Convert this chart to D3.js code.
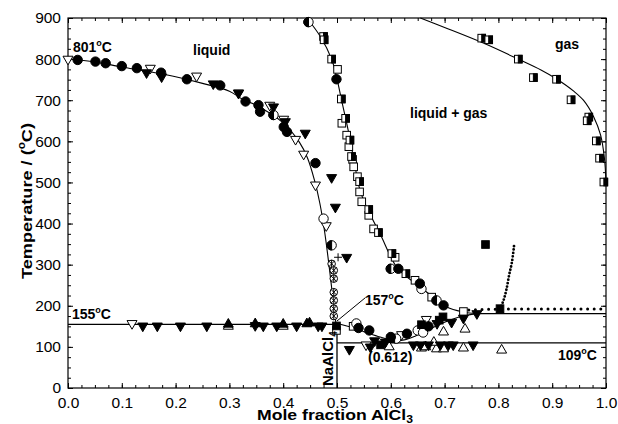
<!DOCTYPE html>
<html>
<head>
<meta charset="utf-8">
<script src="https://cdn.jsdelivr.net/npm/d3@7"></script>
<style>
  body { margin: 0; background: #fff; }
  svg { font-family: Arial, "Liberation Sans", sans-serif; }
</style>
</head>
<body>
<div id="chart"></div>
<script>
// ---- data (x = mole fraction AlCl3, T in degC) ----
const xTicks = [0, 0.1, 0.2, 0.3, 0.4, 0.5, 0.6, 0.7, 0.8, 0.9, 1.0];
const yTicks = [0, 100, 200, 300, 400, 500, 600, 700, 800, 900];

// fitted curves
const liquidusNaCl = [[0,801],[0.05,793],[0.1,781],[0.15,770],[0.2,757],[0.25,741],[0.3,722],[0.325,702],[0.35,688],[0.4,645],[0.43,598],[0.445,560],[0.458,506],[0.468,450],[0.477,380],[0.485,300],[0.492,222],[0.498,157]];
const liquidusUpper = [[0.444,900],[0.469,855],[0.49,800],[0.5,752],[0.508,703],[0.516,656],[0.525,600],[0.532,550],[0.543,480],[0.556,437],[0.58,375],[0.612,292],[0.642,258],[0.667,233],[0.704,197],[0.735,185],[0.76,181]];
const liquidusLower = [[0.5,157],[0.52,150],[0.55,137],[0.58,124],[0.605,116],[0.625,117],[0.645,126],[0.67,142],[0.7,160],[0.73,174],[0.76,181]];
const gasCurve = [[0.655,900],[0.7,877],[0.772,839],[0.837,800],[0.88,773],[0.909,751],[0.94,722],[0.958,700],[0.977,660],[0.99,615],[0.997,560],[1.0,500]];
const line155 = [[0,155],[0.5,155]];
const line181 = [[0.76,181],[1,181]];
const line109 = [[0.5,110],[1,110]];
const lineNaAlCl4 = [[0.5,0],[0.5,157]];
const dottedFlat = [[0.745,190],[0.8,192],[1,192]];
const dottedRise = [[0.803,192],[0.81,215],[0.815,240],[0.82,275],[0.825,305],[0.829,345]];

// measured points by symbol
const filledCircle = [[0.018,798],[0.051,794],[0.07,790],[0.1,783],[0.128,778],[0.173,767],[0.221,751],[0.283,736],[0.33,697],[0.354,688],[0.357,672],[0.401,635],[0.407,623],[0.46,547],[0.499,751],[0.614,290],[0.654,254],[0.698,201],[0.56,140],[0.6,124],[0.63,132],[0.54,146],[0.67,150]];
const openDownTri = [[0.0,800],[0.153,778],[0.239,759],[0.317,718],[0.375,688],[0.401,654],[0.423,605],[0.438,569],[0.46,494],[0.119,157],[0.666,167],[0.554,105],[0.48,395],[0.62,130]];
const filledDownTri = [[0.146,767],[0.174,757],[0.27,740],[0.317,717],[0.382,684],[0.404,648],[0.441,620],[0.49,512],[0.497,440],[0.518,318],
  [0.139,151],[0.166,151],[0.209,151],[0.258,151],[0.348,152],[0.363,151],[0.388,151],[0.425,151],[0.465,151],[0.472,151],
  [0.523,94],[0.562,100],[0.642,105],[0.655,105],[0.67,105],[0.692,105],[0.707,105],[0.716,105],[0.753,105],
  [0.686,157],[0.713,160],[0.735,170],[0.76,181],[0.59,112],[0.57,115]];
const filledUpTri = [[0.298,155],[0.348,156],[0.4,155],[0.449,158],[0.444,156]];
const openUpTri = [[0.298,150],[0.4,150],[0.738,143],[0.698,136],[0.685,95],[0.698,95],[0.735,97],[0.806,92],[0.657,97],[0.597,100],[0.68,111],[0.665,100]];
const openSquare = [[0.501,775],[0.509,644],[0.518,615],[0.522,587],[0.529,556],[0.531,538],[0.538,514],[0.542,477],[0.546,453],[0.559,420],[0.568,387],[0.608,318],[0.645,262],[0.676,221],[0.735,186],[0.499,140],[0.53,150]];
const filledSquare = [[0.776,349],[0.803,193],[0.499,151],[0.581,105],[0.657,154],[0.697,173],[0.6,120],[0.69,165]];
const halfSquare = [[0.769,851],[0.782,847],[0.837,800],[0.865,755],[0.908,751],[0.935,701],[0.968,659],[0.965,650],[0.982,601],[0.988,559],[0.996,501],
  [0.475,855],[0.476,847],[0.49,800],[0.508,703],[0.516,656],[0.524,603],[0.527,563],[0.542,502],[0.559,434],[0.577,378],[0.602,327],[0.628,278]];
const openCircle = [[0.475,412],[0.657,241],[0.536,157],[0.61,120],[0.65,140],[0.66,135]];
const halfCircle = [[0.447,890],[0.382,664],[0.49,347],[0.685,213],[0.6,290]];
const crossCircle = [[0.49,302],[0.494,286],[0.494,266],[0.494,233],[0.494,213],[0.494,193],[0.494,175]];
const plusPoints = [[0.502,318]];

const width = 618, height = 424;
const x = d3.scaleLinear().domain([0, 1]).range([68, 606]);
const y = d3.scaleLinear().domain([0, 900]).range([388, 18]);

const svg = d3.select("#chart").append("svg")
    .attr("width", width)
    .attr("height", height);

// axes, ticks pointing inward on all four sides
function styleAxis(g) {
    g.select(".domain").remove();
    g.selectAll("line").attr("stroke", "#000");
    g.selectAll("text").attr("font-family", "Arial, 'Liberation Sans', sans-serif")
        .attr("font-size", 15.5).attr("fill", "#000");
}
const minorX = d3.range(0, 41).map(i => i / 40);
const minorY = d3.range(0, 37).map(i => i * 25);

svg.append("g").attr("transform", "translate(0,388)")
    .call(d3.axisBottom(x).tickValues(minorX).tickSize(-3).tickFormat("")).call(styleAxis);
svg.append("g").attr("transform", "translate(0,388)")
    .call(d3.axisBottom(x).tickValues(xTicks).tickSize(-5).tickPadding(9).tickFormat(d3.format(".1f"))).call(styleAxis);
svg.append("g").attr("transform", "translate(0,18)")
    .call(d3.axisTop(x).tickValues(minorX).tickSize(-3).tickFormat("")).call(styleAxis);
svg.append("g").attr("transform", "translate(0,18)")
    .call(d3.axisTop(x).tickValues(xTicks).tickSize(-5).tickFormat("")).call(styleAxis);
svg.append("g").attr("transform", "translate(68,0)")
    .call(d3.axisLeft(y).tickValues(minorY).tickSize(-3).tickFormat("")).call(styleAxis);
svg.append("g").attr("transform", "translate(68,0)")
    .call(d3.axisLeft(y).tickValues(yTicks).tickSize(-5).tickPadding(7)).call(styleAxis);
svg.append("g").attr("transform", "translate(606,0)")
    .call(d3.axisRight(y).tickValues(minorY).tickSize(-3).tickFormat("")).call(styleAxis);
svg.append("g").attr("transform", "translate(606,0)")
    .call(d3.axisRight(y).tickValues(yTicks).tickSize(-5).tickFormat("")).call(styleAxis);

svg.append("rect")
    .attr("x", x(0)).attr("y", y(900))
    .attr("width", x(1) - x(0)).attr("height", y(0) - y(900))
    .attr("fill", "none").attr("stroke", "#000").attr("stroke-width", 1.2);

// lines
const smooth = d3.line().x(d => x(d[0])).y(d => y(d[1])).curve(d3.curveCatmullRom.alpha(0.5));
const straight = d3.line().x(d => x(d[0])).y(d => y(d[1]));
const lines = svg.append("g").attr("fill", "none").attr("stroke", "#000");

[liquidusNaCl, liquidusUpper, liquidusLower, gasCurve].forEach(c => {
    lines.append("path").attr("d", smooth(c)).attr("stroke-width", 1.1);
});
[line155, line181, line109, lineNaAlCl4].forEach(c => {
    lines.append("path").attr("d", straight(c)).attr("stroke-width", 1.3);
});
lines.append("path").attr("d", straight(dottedFlat))
    .attr("stroke-width", 3).attr("stroke-linecap", "round").attr("stroke-dasharray", "0 6.6");
lines.append("path").attr("d", smooth(dottedRise))
    .attr("stroke-width", 2.8).attr("stroke-linecap", "round").attr("stroke-dasharray", "0 3.4");

// leader for 157 C
lines.append("path").attr("d", straight([[0.5, 163], [0.553, 220]])).attr("stroke-width", 1);

// markers
const marks = svg.append("g").attr("stroke", "#000").attr("stroke-width", 1);

function triPath(cx, cy, s, down) {
    const h = s * 0.866;
    if (down) return `M${cx - s / 2},${cy - h / 3}L${cx + s / 2},${cy - h / 3}L${cx},${cy + 2 * h / 3}Z`;
    return `M${cx - s / 2},${cy + h / 3}L${cx + s / 2},${cy + h / 3}L${cx},${cy - 2 * h / 3}Z`;
}

function drawTri(data, down, fill) {
    marks.selectAll(null).data(data).enter().append("path")
        .attr("d", d => triPath(x(d[0]), y(d[1]), 10, down))
        .attr("fill", fill);
}
function drawCircle(data, fill) {
    marks.selectAll(null).data(data).enter().append("circle")
        .attr("cx", d => x(d[0])).attr("cy", d => y(d[1])).attr("r", 4.7)
        .attr("fill", fill);
}
function drawSquare(data, fill) {
    marks.selectAll(null).data(data).enter().append("rect")
        .attr("x", d => x(d[0]) - 3.8).attr("y", d => y(d[1]) - 3.8)
        .attr("width", 7.6).attr("height", 7.6)
        .attr("fill", fill);
}

drawTri(openDownTri, true, "#fff");
drawTri(openUpTri, false, "#fff");
drawSquare(openSquare, "#fff");
drawCircle(openCircle, "#fff");

// half-filled squares: right half black
const hs = marks.selectAll(null).data(halfSquare).enter().append("g")
    .attr("transform", d => `translate(${x(d[0])},${y(d[1])})`);
hs.append("rect").attr("x", -3.8).attr("y", -3.8).attr("width", 7.6).attr("height", 7.6).attr("fill", "#fff");
hs.append("rect").attr("x", 0).attr("y", -3.8).attr("width", 3.8).attr("height", 7.6).attr("fill", "#000");

// half-filled circles: left half black
const hc = marks.selectAll(null).data(halfCircle).enter().append("g")
    .attr("transform", d => `translate(${x(d[0])},${y(d[1])})`);
hc.append("circle").attr("r", 4.7).attr("fill", "#fff");
hc.append("path").attr("d", "M0,-4.7A4.7,4.7 0 0 0 0,4.7Z").attr("fill", "#000");

// crossed circles
const cc = marks.selectAll(null).data(crossCircle).enter().append("g")
    .attr("transform", d => `translate(${x(d[0])},${y(d[1])})`);
cc.append("circle").attr("r", 3.8).attr("fill", "#fff");
cc.append("path").attr("d", "M-2.7,-2.7L2.7,2.7M-2.7,2.7L2.7,-2.7M0,-3.8V3.8");

marks.selectAll(null).data(plusPoints).enter().append("path")
    .attr("d", d => `M${x(d[0]) - 4},${y(d[1])}h8M${x(d[0])},${y(d[1]) - 4}v8`);

drawTri(filledDownTri, true, "#000");
drawTri(filledUpTri, false, "#000");
drawSquare(filledSquare, "#000");
drawCircle(filledCircle, "#000");

// annotations
const ann = svg.append("g").attr("font-weight", "bold").attr("font-size", 14).attr("fill", "#000");

function degLabel(px, py, num) {
    const t = ann.append("text").attr("x", px).attr("y", py);
    t.append("tspan").text(num);
    t.append("tspan").attr("font-size", 9).attr("dy", -6).text("o");
    t.append("tspan").attr("dy", 6).text("C");
}
degLabel(73, 52, "801");
degLabel(72, 319, "155");
degLabel(365, 305, "157");
degLabel(558, 360, "109");

ann.append("text").attr("x", 193).attr("y", 55).text("liquid");
ann.append("text").attr("x", 555).attr("y", 49).text("gas");
ann.append("text").attr("x", 410).attr("y", 118).text("liquid + gas");
ann.append("text").attr("x", 368).attr("y", 362).text("(0.612)");

const na = ann.append("text").attr("transform", "translate(333,386) rotate(-90)").attr("font-size", 15);
na.append("tspan").text("NaAlCl");
na.append("tspan").attr("font-size", 10).attr("dy", 4).text("4");

// axis titles
const yt = svg.append("text").attr("transform", "translate(32,201) rotate(-90)")
    .attr("text-anchor", "middle").attr("font-weight", "bold").attr("font-size", 15.5)
    .attr("textLength", 156).attr("lengthAdjust", "spacingAndGlyphs");
yt.append("tspan").text("Temperature / (");
yt.append("tspan").attr("font-size", 10).attr("dy", -7).text("o");
yt.append("tspan").attr("dy", 7).text("C)");

const xt = svg.append("text").attr("x", 335).attr("y", 420)
    .attr("text-anchor", "middle").attr("font-weight", "bold").attr("font-size", 14.5)
    .attr("textLength", 156).attr("lengthAdjust", "spacingAndGlyphs");
xt.append("tspan").text("Mole fraction AlCl");
xt.append("tspan").attr("font-size", 10).attr("dy", 3).text("3");
</script>
</body>
</html>
